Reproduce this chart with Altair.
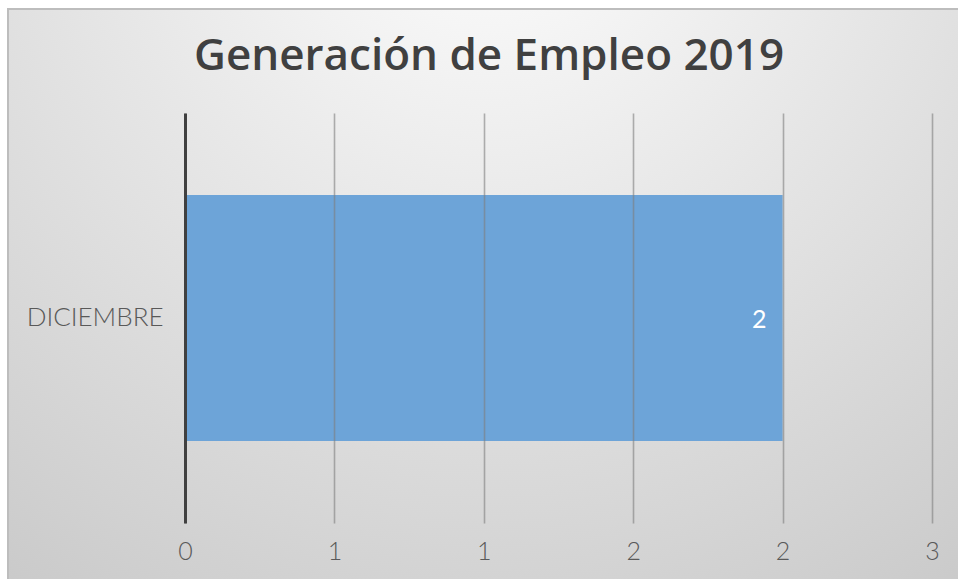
import altair as alt
import pandas as pd

title_text = "Generación de Empleo 2019"
categories = ["DICIEMBRE"]
values = [2]
tick_values = [0, 0.5, 1, 1.5, 2, 2.5]
tick_labels = ["0", "1", "1", "2", "2", "3"]

df = pd.DataFrame({"mes": categories, "valor": values})

label_expr = "[" + ",".join("'" + t + "'" for t in tick_labels) + "][indexof([" + \
    ",".join(str(v) for v in tick_values) + "], datum.value)]"

W, H = 747, 410
PL, PT = 185, 113

bg = alt.Chart(pd.DataFrame({"a": [0]})).mark_rect(
    color=alt.RadialGradient(
        gradient="radial",
        stops=[alt.GradientStop(offset=0, color="#FFFFFF"),
               alt.GradientStop(offset=1, color="#C4C4C4")],
        x1=0.5, y1=0.05, r1=0, x2=0.5, y2=0.05, r2=1.0,
    ),
    stroke="#BDBDBD", strokeWidth=2,
).encode(
    x=alt.value(8 - PL), x2=alt.value(958 - PL + 10),
    y=alt.value(9 - PT), y2=alt.value(579 - PT + 10),
)

title = alt.Chart(pd.DataFrame({"t": [title_text]})).mark_text(
    font="Open Sans", fontWeight=600, fontSize=44, color="#404040",
    align="center", baseline="middle",
).encode(x=alt.value(489 - PL), y=alt.value(57 - PT), text="t:N")

x_enc = alt.X("valor:Q", scale=alt.Scale(domain=[0, 2.5], nice=False, zero=True),
              axis=alt.Axis(values=tick_values, labelExpr=label_expr, title=None,
                            grid=True, gridColor="#7F7F7F", gridOpacity=0.6, gridWidth=1.6,
                            domain=False, ticks=False, labelFont="Lato", labelFontWeight=300,
                            labelFontSize=25, labelColor="#595959", labelPadding=16,
                            labelFlush=False, zindex=1))
y_enc = alt.Y("mes:N", scale=alt.Scale(paddingInner=0.4, paddingOuter=0.2),
              axis=alt.Axis(title=None, domain=True, domainColor="#404040", domainWidth=3,
                            ticks=False, labelFont="Lato", labelFontWeight=300,
                            labelFontSize=26, labelColor="#595959", labelPadding=22,
                            zindex=2))

bars = alt.Chart(df).mark_bar(color="#6DA4D8").encode(x=x_enc, y=y_enc)

labels = alt.Chart(df).mark_text(
    font="Lato", fontSize=25, color="#FFFFFF", align="right", baseline="middle",
    dx=-16, dy=2,
).encode(x="valor:Q", y="mes:N", text="valor:Q")

chart = alt.layer(bg, title, bars, labels).properties(
    width=W, height=H,
    padding={"left": PL, "top": PT, "right": 958 - PL - W, "bottom": 579 - PT - H},
    autosize=alt.AutoSizeParams(type="none"),
    background="#FFFFFF",
).configure_view(stroke=None)

chart.save("out.html", embed_options={"renderer": "svg", "actions": False})
